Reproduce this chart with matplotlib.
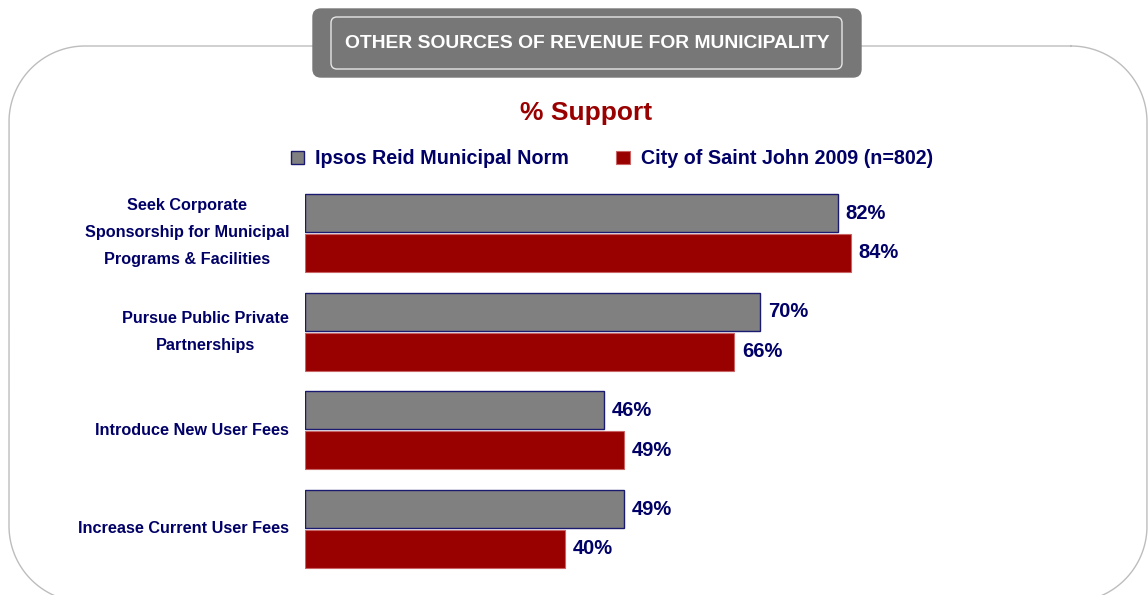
import matplotlib
matplotlib.use("Agg")
import matplotlib.pyplot as plt
from matplotlib.patches import FancyBboxPatch
import numpy as np

categories = ["Seek Corporate\nSponsorship for Municipal\nPrograms & Facilities",
              "Pursue Public Private\nPartnerships",
              "Introduce New User Fees",
              "Increase Current User Fees"]
norm_values = [82, 70, 46, 49]
city_values = [84, 66, 49, 40]
series_names = ["Ipsos Reid Municipal Norm", "City of Saint John 2009 (n=802)"]
title_text = "OTHER SOURCES OF REVENUE FOR MUNICIPALITY"
subtitle_text = "% Support"

NAVY = "#000066"
GRAY = "#808080"
RED = "#990000"
SANS = ["Liberation Sans", "DejaVu Sans"]

W, H = 1148, 595
fig = plt.figure(figsize=(W / 100, H / 100), dpi=100)
fig.patch.set_facecolor("white")

# overlay in pixel coordinates
ov = fig.add_axes([0, 0, 1, 1], zorder=0)
ov.set_xlim(0, W)
ov.set_ylim(H, 0)
ov.axis("off")


def rounded_frame(x0, y0, x1, y1, r, n=40):
    pts = []
    corners = [((x1 - r, y0 + r), -90, 0), ((x1 - r, y1 - r), 0, 90),
               ((x0 + r, y1 - r), 90, 180), ((x0 + r, y0 + r), 180, 270)]
    for (cx, cy), a0, a1 in corners:
        t = np.radians(np.linspace(a0, a1, n))
        pts.append(np.column_stack([cx + r * np.cos(t), cy + r * np.sin(t)]))
    pts = np.vstack(pts + [pts[0][:1]])
    return pts


fr = rounded_frame(9, 46, 1147, 602, 76)
ov.plot(fr[:, 0], fr[:, 1], color="#bdbdbd", lw=1.0, clip_on=False)

# title box
ov.add_patch(FancyBboxPatch((313, 9), 548, 68, boxstyle="round,pad=0,rounding_size=8",
                            fc="#777777", ec="#777777", lw=1, zorder=3))
ov.add_patch(FancyBboxPatch((331, 17), 511, 52, boxstyle="round,pad=0,rounding_size=6",
                            fc="none", ec="#e6e6e6", lw=1, zorder=4))
ov.text(587, 44, title_text, color="white", fontsize=13.9, fontweight="bold",
        family=SANS, ha="center", va="center", zorder=5)
ov.text(586, 113, subtitle_text, color=RED, fontsize=19, fontweight="bold",
        family=SANS, ha="center", va="center")

# main axes
ax = fig.add_axes([305 / W, 1 - 580 / H, 650 / W, 400 / H], zorder=1)
ax.patch.set_alpha(0)
y = np.arange(len(categories))
h = 0.385
b1 = ax.barh(y - h / 2 - 0.01, norm_values, height=h, color=GRAY, edgecolor="#1a1a70", lw=1.0,
             label=series_names[0])
b2 = ax.barh(y + h / 2 + 0.01, city_values, height=h, color=RED, edgecolor="#c86464", lw=0.8,
             label=series_names[1])
for bars, vals in ((b1, norm_values), (b2, city_values)):
    for rect, v in zip(bars, vals):
        ax.text(v + 1.2, rect.get_y() + rect.get_height() / 2, f"{v}%", color=NAVY,
                fontsize=14.5, fontweight="bold", family=SANS, ha="left", va="center")
ax.set_xlim(0, 100)
ax.set_ylim(3.517, -0.537)
ax.set_yticks(y)
ax.set_yticklabels(categories)
for t in ax.get_yticklabels():
    t.set_multialignment("center")
    t.set_verticalalignment("center")
    t.set_color(NAVY)
    t.set_fontsize(11.7)
    t.set_fontweight("bold")
    t.set_family(SANS)
    t.set_linespacing(2.0)
ax.tick_params(axis="y", length=0, pad=11.5)
ax.set_xticks([])
for s in ax.spines.values():
    s.set_visible(False)

leg = fig.legend(handles=[b1, b2], labels=series_names, loc="center left",
                 bbox_to_anchor=(291 / W, 1 - 159 / H), ncol=2, frameon=False,
                 handlelength=0.68, handleheight=0.68, handletextpad=0.55, columnspacing=2.4,
                 borderaxespad=0, borderpad=0,
                 prop={"family": SANS, "weight": "bold", "size": 14.2})
for t in leg.get_texts():
    t.set_color(NAVY)

fig.savefig("out.png", dpi=100, facecolor="white")
